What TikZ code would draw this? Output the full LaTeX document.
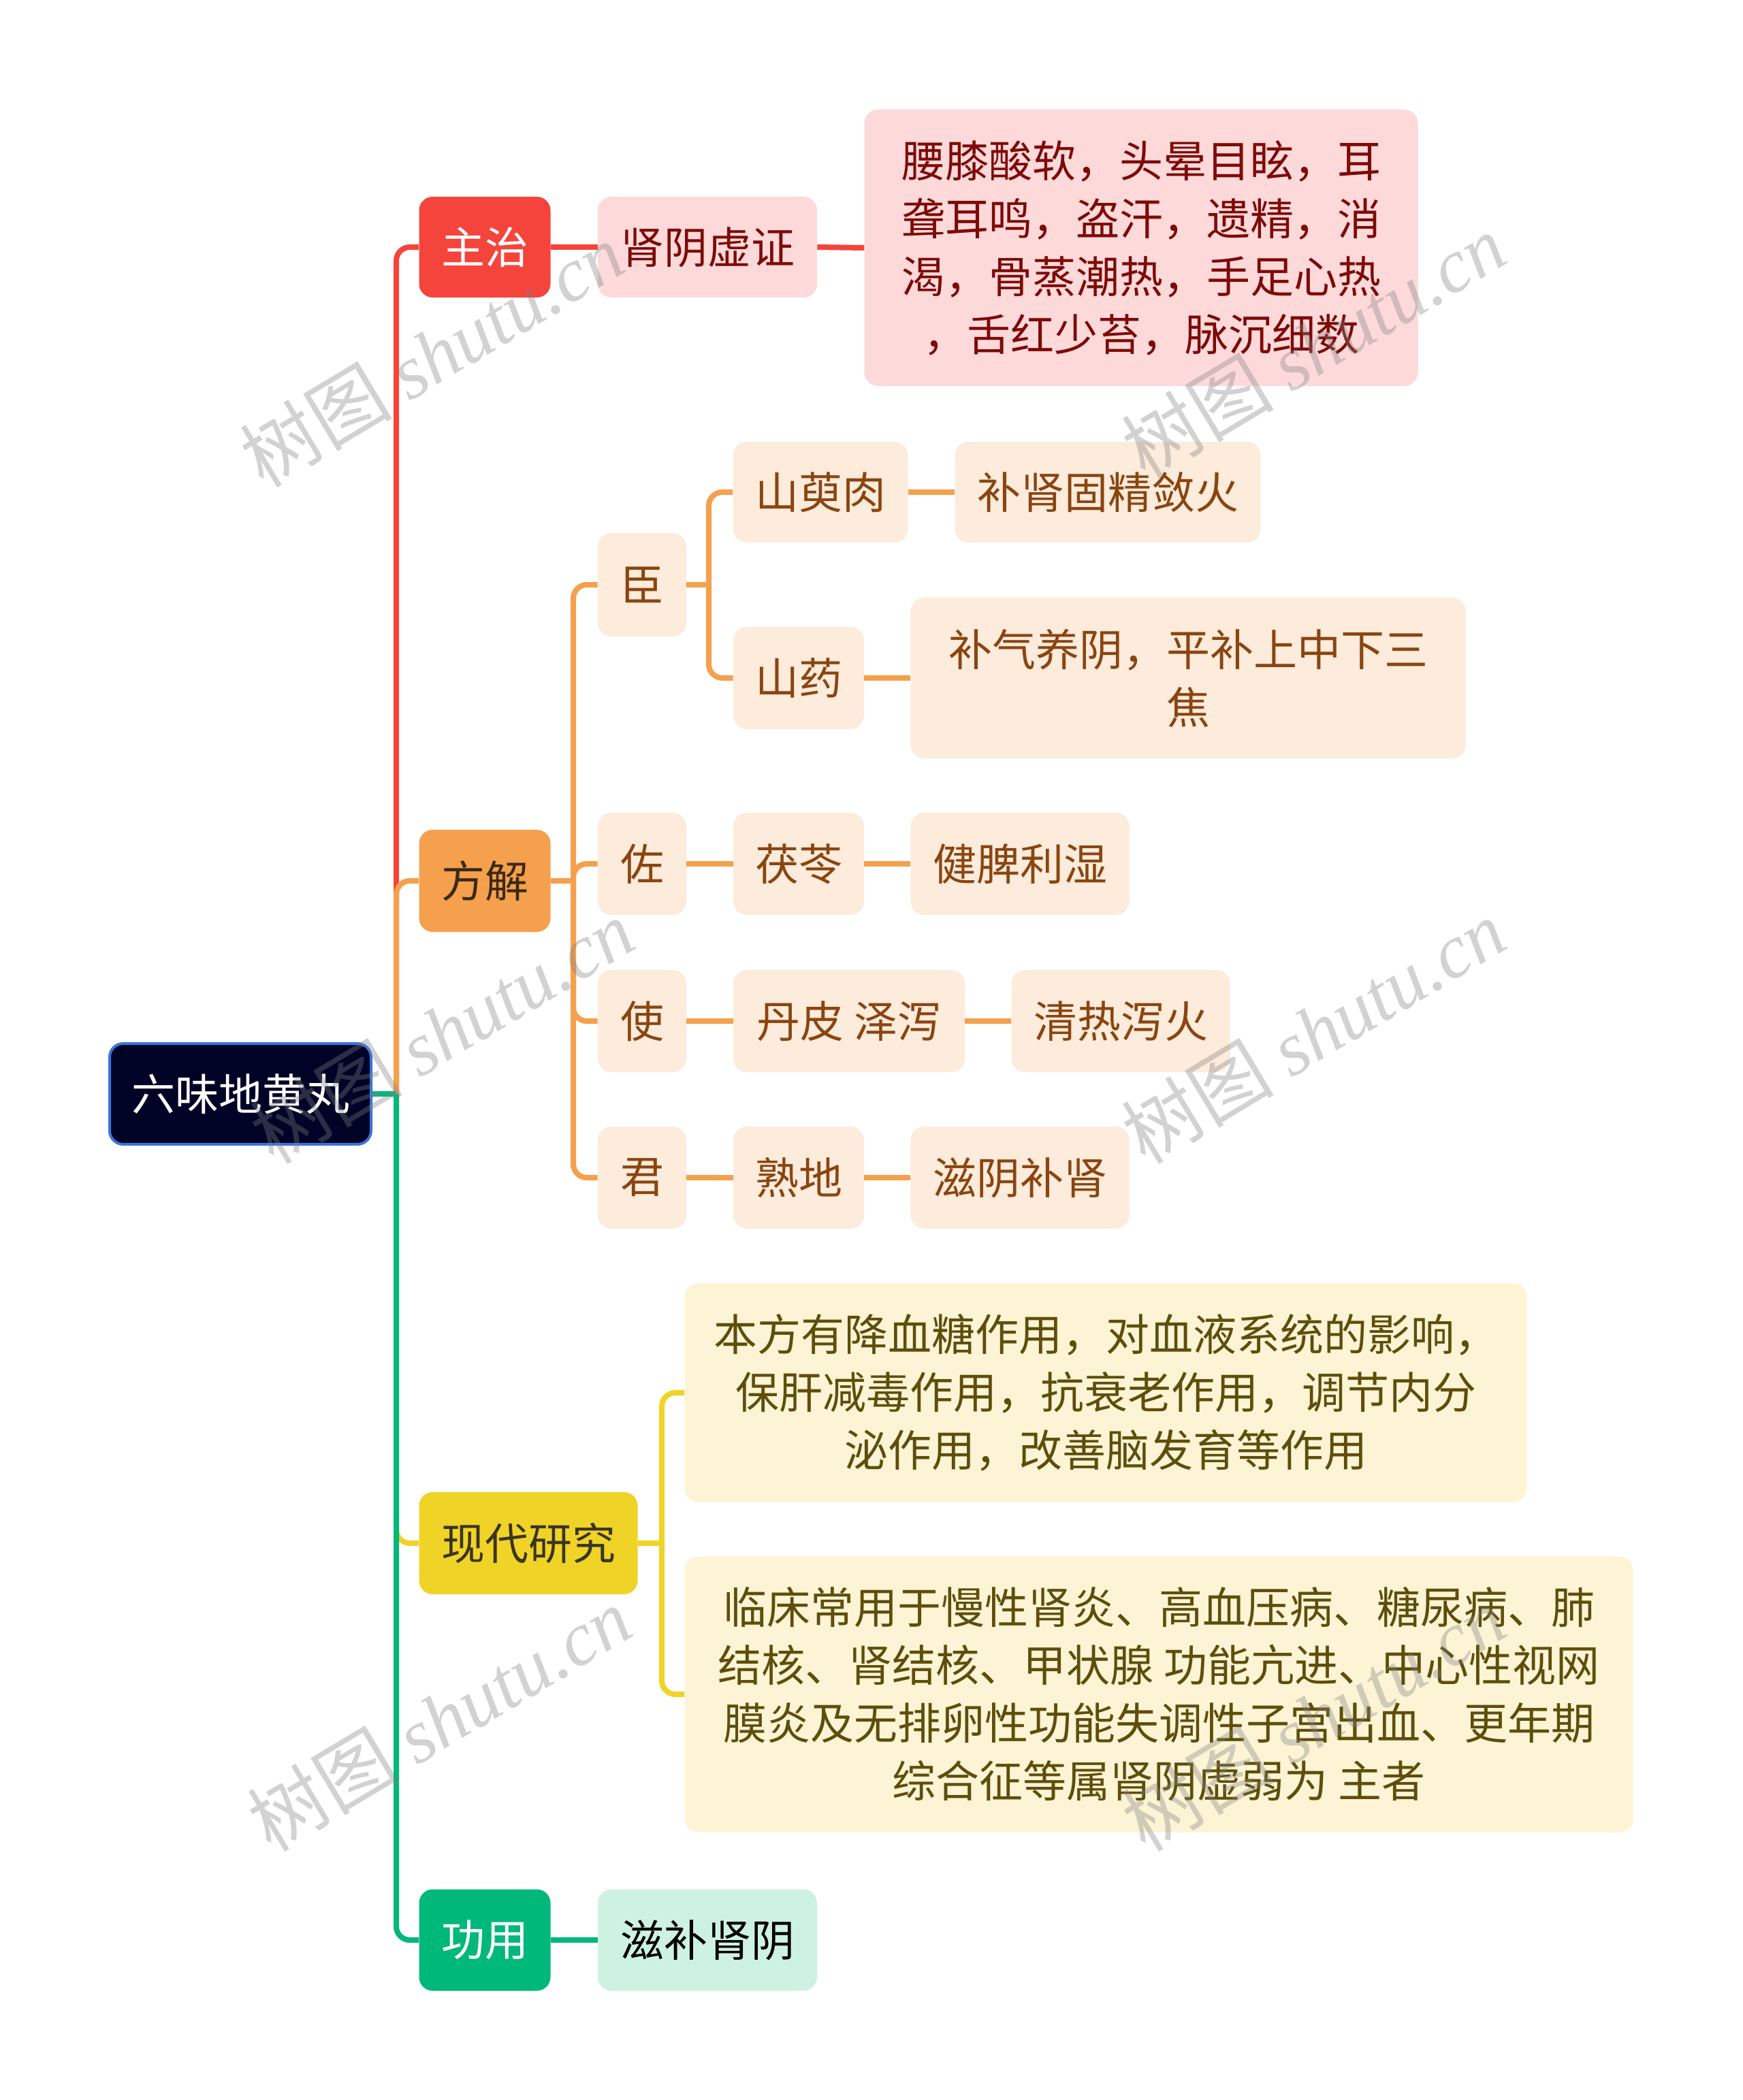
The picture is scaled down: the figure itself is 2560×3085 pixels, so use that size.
\documentclass[tikz,border=0pt]{standalone}
\usepackage{fontspec}
\setmainfont{Noto Sans CJK SC}
\newfontfamily\wmlatin{Liberation Serif}
\definecolor{cRed}{HTML}{F5443B}
\definecolor{cRedL}{HTML}{FDDAD9}
\definecolor{cRedT}{HTML}{7E0A0A}
\definecolor{cOra}{HTML}{F5A04C}
\definecolor{cOraL}{HTML}{FDEBDC}
\definecolor{cOraT}{HTML}{8A4510}
\definecolor{cOraD}{HTML}{3A2A14}
\definecolor{cYel}{HTML}{F0D327}
\definecolor{cYelL}{HTML}{FCF4D4}
\definecolor{cYelT}{HTML}{5E4E0C}
\definecolor{cYelD}{HTML}{3B3420}
\definecolor{cGrn}{HTML}{00B87A}
\definecolor{cGrnL}{HTML}{CEF2E2}
\definecolor{cRoot}{HTML}{000326}
\definecolor{cRootB}{HTML}{3A74DB}
\begin{document}
\begin{tikzpicture}[x=0.5pt,y=-0.5pt,
  box/.style={rectangle, rounded corners=10pt, inner sep=0pt, align=center,
    font=\fontsize{32}{42.5}\selectfont},
  rootbox/.style={box, fill=cRoot, draw=cRootB, line width=2pt, text=white},
  redmain/.style={box, fill=cRed, text=white},
  redsub/.style={box, fill=cRedL, text=cRedT},
  oramain/.style={box, fill=cOra, text=cOraD},
  orasub/.style={box, fill=cOraL, text=cOraT},
  yelmain/.style={box, fill=cYel, text=cYelD},
  yelsub/.style={box, fill=cYelL, text=cYelT},
  grnmain/.style={box, fill=cGrn, text=white},
  grnsub/.style={box, fill=cGrnL, text=black},
  conn/.style={line width=4pt, rounded corners=10pt},
  wmark/.style={rotate=31, text=gray, opacity=0.35, font=\fontsize{56}{56}\selectfont}
]
\useasboundingbox (0,0) rectangle (2560,3085);
\fill[white] (0,0) rectangle (2560,3085);

% nodes
\node[rootbox, minimum width=192pt, minimum height=74pt] (root) at (353,1607) {六味地黄丸};

\node[redmain, minimum width=96.5pt, minimum height=74pt] (zhuzhi) at (712,363) {主治};
\node[redsub, minimum width=161pt, minimum height=74pt] (shenyin) at (1039,363) {肾阴虚证};
\node[redsub, minimum width=406.5pt, minimum height=203pt] (zheng) at (1676,364)
  {腰膝酸软，头晕目眩，耳\\聋耳鸣，盗汗，遗精，消\\渴，骨蒸潮热，手足心热\\，舌红少苔，脉沉细数};

\node[oramain, minimum width=96.5pt, minimum height=75pt] (fangjie) at (712,1294) {方解};
\node[orasub, minimum width=65pt, minimum height=76pt] (chen) at (943,859) {臣};
\node[orasub, minimum width=65pt, minimum height=75pt] (zuo) at (943,1269) {佐};
\node[orasub, minimum width=65pt, minimum height=75pt] (shi) at (943,1500) {使};
\node[orasub, minimum width=65pt, minimum height=75pt] (jun) at (943,1730) {君};
\node[orasub, minimum width=128.5pt, minimum height=74pt] (shanyurou) at (1205,723) {山萸肉};
\node[orasub, minimum width=224.5pt, minimum height=74pt] (bushen) at (1627,723) {补肾固精敛火};
\node[orasub, minimum width=96pt, minimum height=75pt] (shanyao) at (1173,996) {山药};
\node[orasub, minimum width=407.5pt, minimum height=118pt] (buqi) at (1745,996) {补气养阴，平补上中下三\\焦};
\node[orasub, minimum width=96pt, minimum height=75pt] (fuling) at (1173,1269) {茯苓};
\node[orasub, minimum width=160.5pt, minimum height=75pt] (jianpi) at (1498,1269) {健脾利湿};
\node[orasub, minimum width=170pt, minimum height=75pt] (danpi) at (1247,1500) {丹皮 泽泻};
\node[orasub, minimum width=160.5pt, minimum height=75pt] (qingre) at (1646,1500) {清热泻火};
\node[orasub, minimum width=96pt, minimum height=75pt] (shudi) at (1173,1730) {熟地};
\node[orasub, minimum width=160.5pt, minimum height=75pt] (ziyin) at (1498,1730) {滋阴补肾};

\node[yelmain, minimum width=160.5pt, minimum height=75pt] (xiandai) at (776,2267) {现代研究};
\node[yelsub, minimum width=618.5pt, minimum height=160.5pt] (res1) at (1624,2046)
  {本方有降血糖作用，对血液系统的影响，\\保肝减毒作用，抗衰老作用，调节内分\\泌作用，改善脑发育等作用};
\node[yelsub, minimum width=696.5pt, minimum height=202.5pt] (res2) at (1702,2489)
  {临床常用于慢性肾炎、高血压病、糖尿病、肺\\结核、肾结核、甲状腺 功能亢进、中心性视网\\膜炎及无排卵性功能失调性子宫出血、更年期\\综合征等属肾阴虚弱为 主者};

\node[grnmain, minimum width=96.5pt, minimum height=74.5pt] (gongyong) at (712,2850) {功用};
\node[grnsub, minimum width=161pt, minimum height=74.5pt] (zibu) at (1039,2850) {滋补肾阴};

% junction coordinates
\coordinate (t0) at (582,1607);
\coordinate (f0) at (842,1294);
\coordinate (c0) at (1041,859);
\coordinate (y0) at (972,2267);

% trunk connectors
\draw[conn, cRed] (t0) |- (zhuzhi.west);
\draw[conn, cOra] (t0) |- (fangjie.west);
\draw[conn, cYel] (t0) |- (xiandai.west);
\draw[conn, cGrn] (t0) |- (gongyong.west);
\draw[conn, cGrn] (root.east) -- (t0);

% red branch
\draw[conn, cRed] (zhuzhi.east) -- (shenyin.west);
\draw[conn, cRed] (shenyin.east) -- (zheng.west);

% orange branch
\draw[conn, cOra] (fangjie.east) -- (f0);
\draw[conn, cOra] (f0) |- (chen.west);
\draw[conn, cOra] (f0) |- (zuo.west);
\draw[conn, cOra] (f0) |- (shi.west);
\draw[conn, cOra] (f0) |- (jun.west);
\draw[conn, cOra] (chen.east) -- (c0);
\draw[conn, cOra] (c0) |- (shanyurou.west);
\draw[conn, cOra] (c0) |- (shanyao.west);
\draw[conn, cOra] (shanyurou.east) -- (bushen.west);
\draw[conn, cOra] (shanyao.east) -- (buqi.west);
\draw[conn, cOra] (zuo.east) -- (fuling.west);
\draw[conn, cOra] (fuling.east) -- (jianpi.west);
\draw[conn, cOra] (shi.east) -- (danpi.west);
\draw[conn, cOra] (danpi.east) -- (qingre.west);
\draw[conn, cOra] (jun.east) -- (shudi.west);
\draw[conn, cOra] (shudi.east) -- (ziyin.west);

% yellow branch
\draw[conn, cYel] (xiandai.east) -- (y0);
\draw[conn, cYel] (y0) |- (res1.west);
\draw[conn, cYel] (y0) |- (res2.west);

% green branch
\draw[conn, cGrn] (gongyong.east) -- (zibu.west);

% watermarks
\node[wmark] (wm1) at (634,521) {树图 {\wmlatin\itshape shutu.cn}};
\node[wmark] (wm2) at (1929,508) {树图 {\wmlatin\itshape shutu.cn}};
\node[wmark] (wm3) at (649,1515) {树图 {\wmlatin\itshape shutu.cn}};
\node[wmark] (wm4) at (1929,1515) {树图 {\wmlatin\itshape shutu.cn}};
\node[wmark] (wm5) at (645,2525) {树图 {\wmlatin\itshape shutu.cn}};
\node[wmark] (wm6) at (1929,2525) {树图 {\wmlatin\itshape shutu.cn}};
\end{tikzpicture}
\end{document}
